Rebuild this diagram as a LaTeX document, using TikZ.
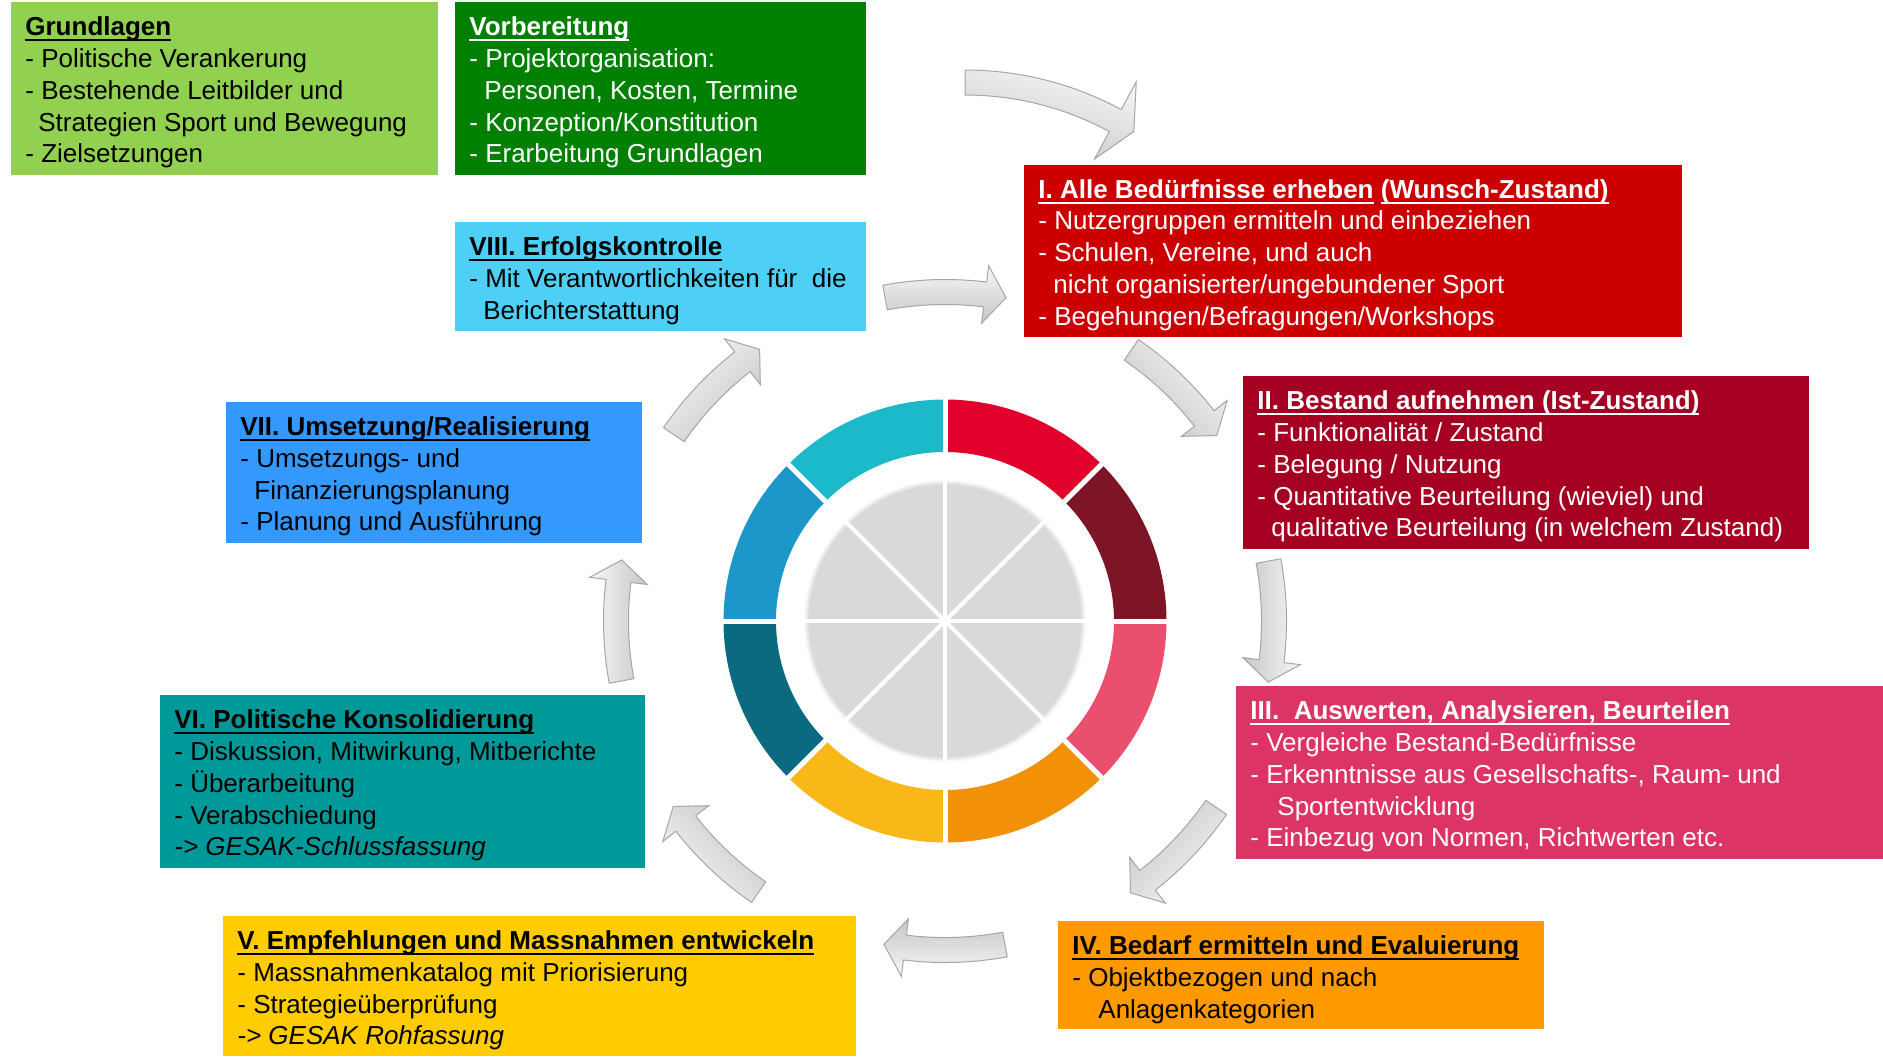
\documentclass[tikz,border=0pt]{standalone}
\usepackage{fontspec}
\setmainfont{Liberation Sans}
\definecolor{cGrund}{HTML}{92D050}
\definecolor{cVorb}{HTML}{008000}
\definecolor{cVIII}{HTML}{4ECFF6}
\definecolor{cI}{HTML}{CC0000}
\definecolor{cII}{HTML}{A50021}
\definecolor{cIII}{HTML}{DC3464}
\definecolor{cIV}{HTML}{FF9900}
\definecolor{cV}{HTML}{FFCC00}
\definecolor{cVI}{HTML}{009999}
\definecolor{cVII}{HTML}{3399FF}
\definecolor{wRed}{HTML}{E1002B}
\definecolor{wDred}{HTML}{7D1527}
\definecolor{wPink}{HTML}{EA4F6E}
\definecolor{wOrange}{HTML}{F29107}
\definecolor{wYellow}{HTML}{F9B817}
\definecolor{wTeal}{HTML}{0B6A7F}
\definecolor{wBlue}{HTML}{1D97CA}
\definecolor{wCyan}{HTML}{1CB9CB}
\newsavebox\ulbox
\newcommand\ttl[1]{\sbox\ulbox{\bfseries #1}\rlap{\rule[-2.8pt]{\wd\ulbox}{1pt}}\usebox\ulbox}
\begin{document}
\begin{tikzpicture}[x=0.5pt,y=-0.5pt,
  txt/.style={anchor=west, inner sep=0pt, align=left, font=\fontsize{13}{15.9}\selectfont},
  garrow/.style={draw=gray!70, line width=0.5pt, top color=gray!6, bottom color=gray!45}]
\useasboundingbox (0,0) rectangle (1883,1056);
\fill[white] (0,0) rectangle (1883,1056);
% boxes
\fill[cGrund] (11,2) rectangle (438,175);
\fill[cVorb] (455,2) rectangle (866,175);
\fill[cVIII] (455,222) rectangle (866,331);
\fill[cI] (1024,165) rectangle (1682,337);
\fill[cII] (1243,376) rectangle (1809,549);
\fill[cIII] (1236,686) rectangle (1883,859);
\fill[cIV] (1058,921) rectangle (1544,1029);
\fill[cV] (223,916) rectangle (856,1056);
\fill[cVI] (160,695) rectangle (645,868);
\fill[cVII] (226,402) rectangle (642,543);
% texts
\node[txt] (grund) at (25,92.5) {\ttl{Grundlagen}\\- Politische Verankerung\\- Bestehende Leitbilder und\\\hspace*{6.5pt}Strategien Sport und Bewegung\\- Zielsetzungen};
\node[txt, text=white] (vorb) at (469,92.5) {\ttl{Vorbereitung}\\- Projektorganisation:\\\hspace*{7.5pt}Personen, Kosten, Termine\\- Konzeption/Konstitution\\- Erarbeitung Grundlagen};
\node[txt] (viii) at (469,280.5) {\ttl{VIII. Erfolgskontrolle}\\- Mit Verantwortlichkeiten für~~die\\\hspace*{7pt}Berichterstattung};
\node[txt, text=white] (i) at (1038,255) {\ttl{I. Alle Bedürfnisse erheben} \ttl{(Wunsch-Zustand)}\\- Nutzergruppen ermitteln und einbeziehen\\- Schulen, Vereine, und auch\\\hspace*{7.5pt}nicht organisierter/ungebundener Sport\\- Begehungen/Befragungen/Workshops};
\node[txt, text=white] (ii) at (1257,466.5) {\ttl{II. Bestand aufnehmen (Ist-Zustand)}\\- Funktionalität / Zustand\\- Belegung / Nutzung\\- Quantitative Beurteilung (wieviel) und\\\hspace*{7pt}qualitative Beurteilung (in welchem Zustand)};
\node[txt, text=white] (iii) at (1250,776.5) {\ttl{III.~~Auswerten, Analysieren, Beurteilen}\\- Vergleiche Bestand-Bedürfnisse\\- Erkenntnisse aus Gesellschafts-, Raum- und\\\hspace*{13.5pt}Sportentwicklung\\- Einbezug von Normen, Richtwerten etc.};
\node[txt] (iv) at (1072,979.5) {\ttl{IV. Bedarf ermitteln und Evaluierung}\\- Objektbezogen und nach\\\hspace*{13pt}Anlagenkategorien};
\node[txt] (v) at (237,990.5) {\ttl{V. Empfehlungen und Massnahmen entwickeln}\\- Massnahmenkatalog mit Priorisierung\\- Strategieüberprüfung\\\textit{-> GESAK Rohfassung}};
\node[txt] (vi) at (174,785.5) {\ttl{VI. Politische Konsolidierung}\\- Diskussion, Mitwirkung, Mitberichte\\- Überarbeitung\\- Verabschiedung\\\textit{-> GESAK-Schlussfassung}};
\node[txt] (vii) at (240,476.5) {\ttl{VII. Umsetzung/Realisierung}\\- Umsetzungs- und\\\hspace*{7pt}Finanzierungsplanung\\- Planung und Ausführung};
% wheel
\coordinate (wc) at (945,621);
\begin{scope}[shift={(wc)}]
  \fill[gray!5] (0,0) circle[radius=141];
  \fill[gray!13] (0,0) circle[radius=139.5];
  \fill[gray!21] (0,0) circle[radius=138];
  \fill[gray!30] (0,0) circle[radius=136.5];
  \foreach \a in {0,45,...,315} \draw[white, line width=2pt] (0,0) -- (\a:142);
  \foreach \a/\col in {-90/wRed,-45/wDred,0/wPink,45/wOrange,90/wYellow,135/wTeal,180/wBlue,225/wCyan}{
    \pgfmathsetmacro\b{\a+45}
    \fill[\col] (\a:169) arc[start angle=\a, end angle=\b, radius=169] -- (\b:221.5) arc[start angle=\b, end angle=\a, radius=221.5] -- cycle;
  }
  \foreach \a in {0,45,...,315} \draw[white, line width=2.5pt] (\a:160) -- (\a:230);
  % ring arrows
  \foreach \c in {-90,-45,0,45,90,135,180,225}{
    \pgfmathsetmacro\aa{\c-10.5}
    \pgfmathsetmacro\ab{\c+7}
    \pgfmathsetmacro\at{\c+10.7}
    \pgfmathsetmacro\sh{-\c-90}
    \draw[garrow, shading angle=\sh] (\aa:316.5) arc[start angle=\aa, end angle=\ab, radius=316.5] -- (\ab:300) -- (\at:329) -- (\ab:358) -- (\ab:341.5) arc[start angle=\ab, end angle=\aa, radius=341.5] -- cycle;
  }
\end{scope}
% top arrow
\coordinate (tc) at (965,398.5);
\begin{scope}[shift={(tc)}]
  \draw[garrow, shading angle=-15] (-90:303.5) arc[start angle=-90, end angle=-61.6, radius=303.5] -- (-61.6:272) -- (-57.7:316) -- (-61.6:360) -- (-61.6:328.5) arc[start angle=-61.6, end angle=-90, radius=328.5] -- cycle;
\end{scope}
\end{tikzpicture}
\end{document}
